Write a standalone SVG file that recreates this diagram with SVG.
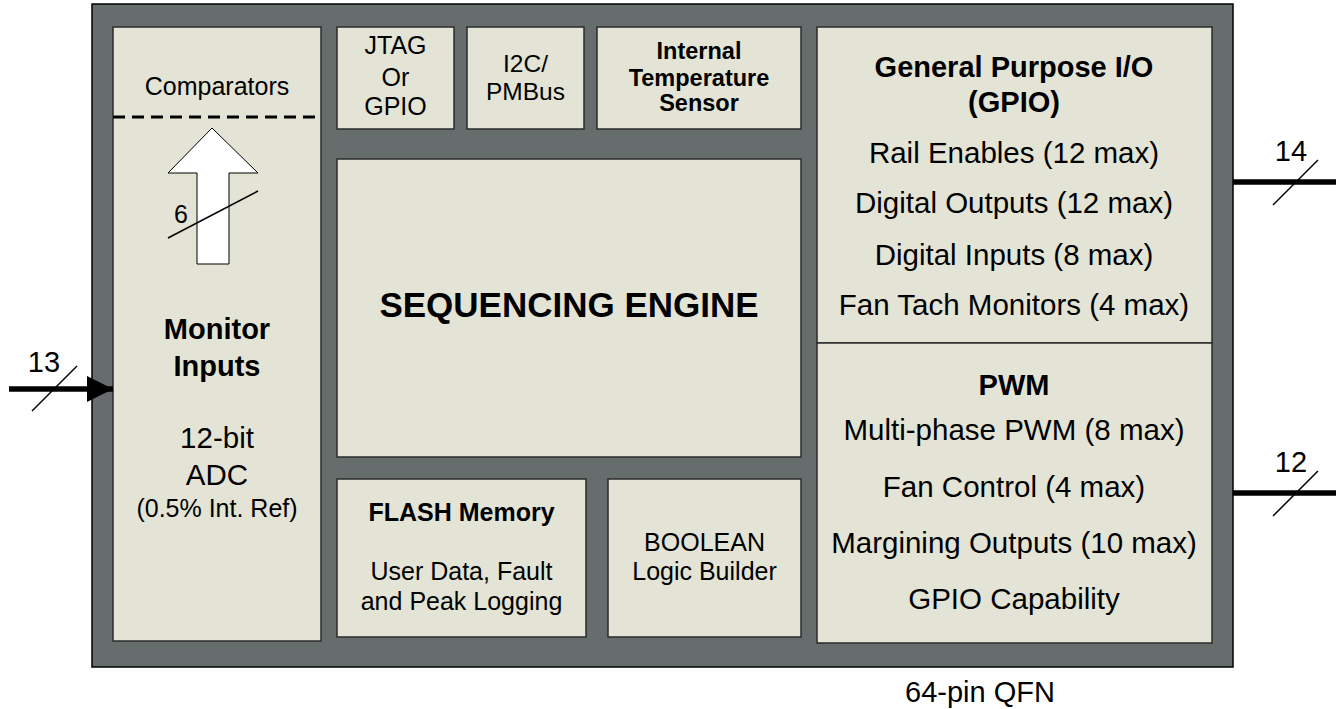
<svg xmlns="http://www.w3.org/2000/svg" width="1336" height="709" viewBox="0 0 1336 709">
<defs>
<style>
.box{fill:#e3e4d5;stroke:#2b2b2b;stroke-width:1.5}
.t{font-family:"Liberation Sans",Arial,sans-serif;fill:#000;text-anchor:middle}
.b{font-weight:bold}
.bus{stroke:#000;stroke-width:5.5;fill:none}
.sl{stroke:#000;stroke-width:1.5;fill:none}
</style>
<marker id="ah" markerWidth="26" markerHeight="26" viewBox="0 0 26 26" refX="26" refY="13" orient="auto" markerUnits="userSpaceOnUse">
<path d="M0,0 L26,13 L0,26 Z" fill="#000"/>
</marker>
</defs>
<rect width="1336" height="709" fill="#fff"/>
<g id="package">
<rect x="92" y="4" width="1141" height="663" fill="#676c6c" stroke="#000" stroke-width="1.5"/>
<text class="t" x="980" y="702" font-size="29">64-pin QFN</text>
</g>
<g id="monitor">
<rect class="box" x="113" y="27" width="208" height="614"/>
<line x1="113" y1="117" x2="321" y2="117" stroke="#000" stroke-width="3" stroke-dasharray="12,7"/>
<text class="t" x="217" y="95" font-size="25">Comparators</text>
<path d="M212,128 L258,173 L229,173 L229,264 L197,264 L197,173 L168,173 Z" fill="#fff" stroke="#000" stroke-width="1"/>
<line class="sl" x1="168" y1="238" x2="258" y2="191"/>
<text class="t" x="181" y="223" font-size="25">6</text>
<text class="t b" x="217" y="339" font-size="29">Monitor</text>
<text class="t b" x="217" y="376" font-size="29">Inputs</text>
<text class="t" x="217" y="448" font-size="29.5">12-bit</text>
<text class="t" x="217" y="485" font-size="29.5">ADC</text>
<text class="t" x="217" y="517" font-size="25">(0.5% Int. Ref)</text>
</g>
<g id="jtag">
<rect class="box" x="337" y="27" width="117" height="102"/>
<text class="t" x="395.5" y="54" font-size="25">JTAG</text>
<text class="t" x="395.5" y="86" font-size="25">Or</text>
<text class="t" x="395.5" y="115" font-size="25">GPIO</text>
</g>
<g id="i2c">
<rect class="box" x="467" y="27" width="117" height="102"/>
<text class="t" x="525.5" y="72" font-size="24.5">I2C/</text>
<text class="t" x="525.5" y="100" font-size="24.5">PMBus</text>
</g>
<g id="temp">
<rect class="box" x="597" y="27" width="204" height="102"/>
<text class="t b" x="699" y="59" font-size="23.5">Internal</text>
<text class="t b" x="699" y="86" font-size="23.5">Temperature</text>
<text class="t b" x="699" y="111" font-size="23.5">Sensor</text>
</g>
<g id="sequencer">
<rect class="box" x="337" y="159" width="464" height="298"/>
<text class="t b" x="569" y="317" font-size="35">SEQUENCING ENGINE</text>
</g>
<g id="flash">
<rect class="box" x="337" y="479" width="249" height="158"/>
<text class="t b" x="461.5" y="521" font-size="25">FLASH Memory</text>
<text class="t" x="461.5" y="580" font-size="25">User Data, Fault</text>
<text class="t" x="461.5" y="610" font-size="25">and Peak Logging</text>
</g>
<g id="boolean">
<rect class="box" x="608" y="479" width="193" height="158"/>
<text class="t" x="704.5" y="551" font-size="25">BOOLEAN</text>
<text class="t" x="704.5" y="580" font-size="25">Logic Builder</text>
</g>
<g id="gpio">
<rect class="box" x="817" y="27" width="395" height="316"/>
<text class="t b" x="1014" y="77" font-size="29">General Purpose I/O</text>
<text class="t b" x="1014" y="112" font-size="29">(GPIO)</text>
<text class="t" x="1014" y="163" font-size="29.5">Rail Enables (12 max)</text>
<text class="t" x="1014" y="213" font-size="29.5">Digital Outputs (12 max)</text>
<text class="t" x="1014" y="265" font-size="29.5">Digital Inputs (8 max)</text>
<text class="t" x="1014" y="315" font-size="29.5">Fan Tach Monitors (4 max)</text>
</g>
<g id="pwm">
<rect class="box" x="817" y="343" width="395" height="300"/>
<text class="t b" x="1014" y="395" font-size="29">PWM</text>
<text class="t" x="1014" y="440" font-size="29.5">Multi-phase PWM (8 max)</text>
<text class="t" x="1014" y="497" font-size="29.5">Fan Control (4 max)</text>
<text class="t" x="1014" y="553" font-size="29.5">Margining Outputs (10 max)</text>
<text class="t" x="1014" y="609" font-size="29.5">GPIO Capability</text>
</g>
<g id="connectors">
<line class="bus" x1="9" y1="389" x2="113" y2="389" marker-end="url(#ah)"/>
<line class="sl" x1="32" y1="411" x2="77" y2="366"/>
<text class="t" x="44" y="372" font-size="29">13</text>
<line class="bus" x1="1233" y1="182" x2="1336" y2="182"/>
<line class="sl" x1="1273" y1="205" x2="1318" y2="160"/>
<text class="t" x="1291" y="161" font-size="29">14</text>
<line class="bus" x1="1233" y1="493" x2="1336" y2="493"/>
<line class="sl" x1="1273" y1="516" x2="1318" y2="471"/>
<text class="t" x="1291" y="472" font-size="29">12</text>
</g>
</svg>
